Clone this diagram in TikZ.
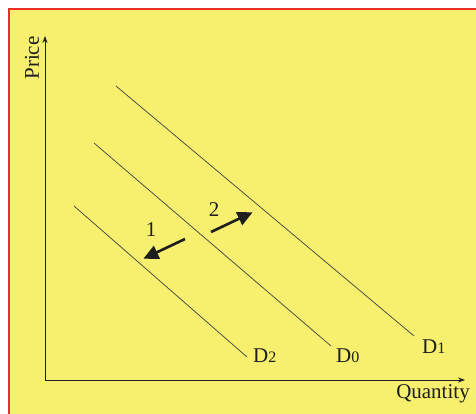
\documentclass[tikz,border=0pt]{standalone}
\usepackage{fontspec}
\setmainfont{Liberation Serif}
\usetikzlibrary{arrows.meta}
\definecolor{bgyellow}{RGB}{247,239,110}
\definecolor{frame}{RGB}{235,45,35}
\definecolor{ink}{RGB}{30,30,30}
\begin{document}
\begin{tikzpicture}[x=1pt,y=-1pt,
  lbl/.style={font=\fontsize{21}{24}\selectfont, text=ink, inner sep=0pt},
  axis/.style={draw=ink, line width=0.8pt, -{Stealth[length=7pt,width=5pt]}},
  dcurve/.style={draw=ink!85, line width=0.7pt},
  shiftarrow/.style={draw=ink, line width=2.6pt, -{Triangle[length=15pt,width=14pt]}, shorten >=-4pt}]
\useasboundingbox (0,0) rectangle (476,414);
\fill[white] (0,0) rectangle (476,414);
\fill[bgyellow] (9,9) rectangle (476,414);
\draw[frame, line width=2pt] (9,414) -- (9,9) -- (476,9);
% axes
\coordinate (O) at (45,380);
\coordinate (Ytop) at (45,36);
\coordinate (Xend) at (465,380);
\draw[axis] (O) -- (Ytop);
\draw[axis] (O) -- (Xend);
\node[lbl, rotate=90] (price) at (32,58) {Price};
\node[lbl] (qty) at (433,394) {Quantity};
% demand curves
\coordinate (d1a) at (116,86);  \coordinate (d1b) at (414,336);
\coordinate (d0a) at (94,143);  \coordinate (d0b) at (331,346);
\coordinate (d2a) at (74,206);  \coordinate (d2b) at (247,357);
\draw[dcurve] (d1a) -- (d1b);
\draw[dcurve] (d0a) -- (d0b);
\draw[dcurve] (d2a) -- (d2b);
\node[lbl, anchor=west] (D1) at (422,347) {D{\fontsize{16}{18}\selectfont 1}};
\node[lbl, anchor=west] (D0) at (336,356) {D{\fontsize{16}{18}\selectfont 0}};
\node[lbl, anchor=west] (D2) at (253,356) {D{\fontsize{16}{18}\selectfont 2}};
% shift arrows
\coordinate (a1s) at (185,239); \coordinate (a1e) at (147,257);
\coordinate (a2s) at (211,232); \coordinate (a2e) at (249,214);
\draw[shiftarrow] (a1s) -- (a1e);
\draw[shiftarrow] (a2s) -- (a2e);
\node[lbl] (n1) at (151,230) {1};
\node[lbl] (n2) at (214,210) {2};
\end{tikzpicture}
\end{document}
